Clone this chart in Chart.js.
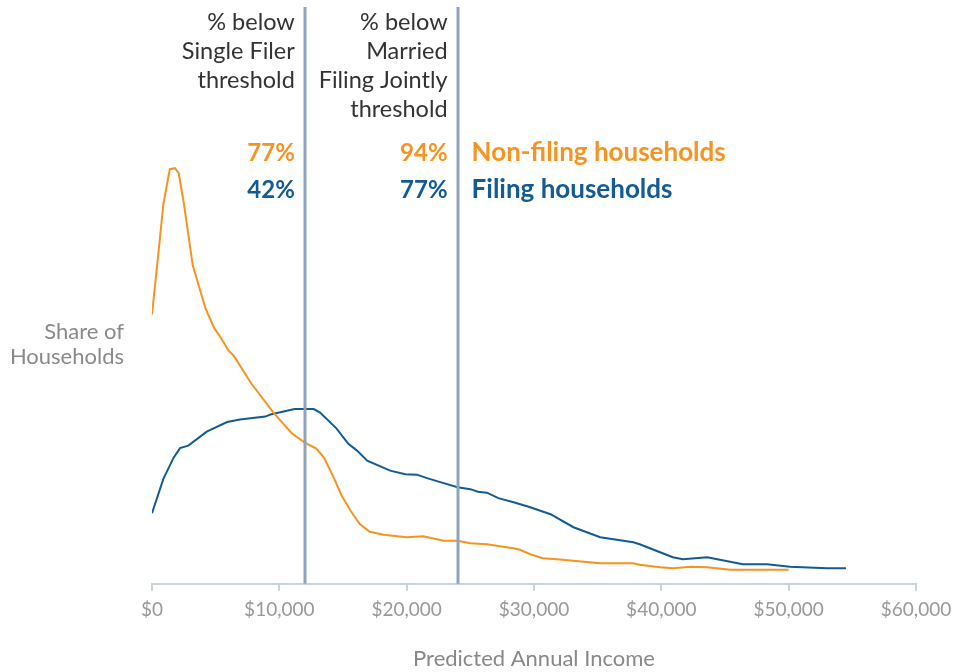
<!DOCTYPE html>
<html>
<head>
<meta charset="utf-8">
<script src="https://cdn.jsdelivr.net/npm/chart.js@4.4.1/dist/chart.umd.min.js"></script>
<style>
  body { margin: 0; background: #fff; }
</style>
</head>
<body>
<canvas id="myChart" width="956" height="672"></canvas>
<script>
// predicted annual income ($) and share of households (%)
const nonFilingIncome = [0, 500, 900, 1400, 1800, 2100, 2500, 3200, 4200, 4900, 5300, 6000, 6400, 7800, 9600,
  11000, 12000, 12900, 13500, 14200, 14900, 15600, 16300, 17100, 18200, 20000, 21300, 22900, 24000, 25000,
  26300, 27300, 28400, 28900, 29700, 30700, 31800, 35200, 37800, 38300, 39900, 40900, 42300, 43600, 45400, 50000];
const nonFilingShare = [5.38, 6.60, 7.60, 8.28, 8.30, 8.20, 7.60, 6.36, 5.50, 5.10, 4.96, 4.66, 4.56, 4.00, 3.40,
  3.00, 2.82, 2.70, 2.52, 2.16, 1.76, 1.46, 1.20, 1.04, 0.98, 0.93, 0.95, 0.86, 0.86, 0.81,
  0.79, 0.75, 0.71, 0.68, 0.59, 0.51, 0.49, 0.41, 0.41, 0.38, 0.33, 0.31, 0.34, 0.33, 0.28, 0.28];

const filingIncome = [0, 900, 1700, 2200, 2850, 4300, 5900, 6900, 8900, 9300, 11200, 12700, 13200, 14500, 15400,
  16100, 16900, 18700, 19900, 20800, 21600, 22900, 24000, 25000, 25600, 26300, 27200, 28400, 29700, 31300,
  33100, 35200, 37800, 38300, 39900, 40900, 41700, 43600, 46400, 48300, 50100, 53000, 54500];
const filingShare = [1.41, 2.10, 2.52, 2.71, 2.76, 3.04, 3.23, 3.28, 3.34, 3.38, 3.49, 3.49, 3.42, 3.10, 2.80,
  2.66, 2.46, 2.26, 2.19, 2.18, 2.11, 2.01, 1.93, 1.89, 1.84, 1.82, 1.71, 1.63, 1.53, 1.39,
  1.13, 0.93, 0.83, 0.79, 0.63, 0.53, 0.49, 0.53, 0.39, 0.39, 0.34, 0.31, 0.31];

const thresholds = [12000, 24000];
const thresholdLabels = [['% below', 'Single Filer', 'threshold'], ['% below', 'Married', 'Filing Jointly', 'threshold']];
const nonFilingBelow = ['77%', '94%'];
const filingBelow = ['42%', '77%'];
const seriesNames = ['Non-filing households', 'Filing households'];

const orange = '#f7931e';
const blue = '#125b94';

function toPoints(xs, ys) {
  return xs.map((x, i) => ({ x: x, y: ys[i] }));
}

// threshold lines and the text around them
const notes = {
  id: 'notes',
  afterDatasetsDraw(chart) {
    const ctx = chart.ctx;
    const area = chart.chartArea;
    const xs = chart.scales.x;
    ctx.save();
    ctx.strokeStyle = '#8fa3bb';
    ctx.lineWidth = 3;
    thresholds.forEach((t) => {
      const px = Math.round(xs.getPixelForValue(t));
      ctx.beginPath();
      ctx.moveTo(px, area.top);
      ctx.lineTo(px, area.bottom);
      ctx.stroke();
    });

    ctx.textAlign = 'right';
    ctx.textBaseline = 'middle';
    thresholds.forEach((t, i) => {
      const px = xs.getPixelForValue(t) - 10;
      ctx.font = '23.5px Lato';
      ctx.fillStyle = '#333';
      thresholdLabels[i].forEach((line, j) => {
        ctx.fillText(line, px, 22 + j * 29);
      });
      ctx.font = 'bold 24px Lato';
      ctx.fillStyle = orange;
      ctx.fillText(nonFilingBelow[i], px, 153);
      ctx.fillStyle = blue;
      ctx.fillText(filingBelow[i], px, 190);
    });

    const lx = xs.getPixelForValue(thresholds[1]) + 14;
    ctx.textAlign = 'left';
    ctx.font = 'bold 26px Lato';
    ctx.fillStyle = orange;
    ctx.fillText(seriesNames[0], lx, 153);
    ctx.fillStyle = blue;
    ctx.fillText(seriesNames[1], lx, 190);

    ctx.textAlign = 'right';
    ctx.font = '22px Lato';
    ctx.fillStyle = '#8a8a8a';
    ctx.fillText('Share of', 124, 332);
    ctx.fillText('Households', 124, 357);
    ctx.restore();
  }
};

new Chart(document.getElementById('myChart'), {
  type: 'line',
  data: {
    datasets: [{
      label: seriesNames[0],
      data: toPoints(nonFilingIncome, nonFilingShare),
      borderColor: orange,
      borderWidth: 2,
      pointRadius: 0,
      tension: 0
    }, {
      label: seriesNames[1],
      data: toPoints(filingIncome, filingShare),
      borderColor: blue,
      borderWidth: 2,
      pointRadius: 0,
      tension: 0
    }]
  },
  options: {
    responsive: false,
    animation: false,
    layout: { padding: { left: 152, right: 40, top: 7, bottom: 0 } },
    plugins: {
      legend: { display: false },
      tooltip: { enabled: false }
    },
    scales: {
      x: {
        type: 'linear',
        min: 0,
        max: 60000,
        // edge labels fit inside the layout padding, so don't let them shrink the plot
        afterFit: (scale) => { scale.paddingLeft = 0; scale.paddingRight = 0; },
        border: { display: true, color: '#c9d3df', width: 2 },
        grid: { drawOnChartArea: false, drawTicks: true, tickLength: 7, color: '#c9d3df', lineWidth: 2 },
        ticks: {
          stepSize: 10000,
          color: '#999',
          font: { family: 'Lato', size: 19 },
          padding: 8,
          maxRotation: 0,
          callback: (v) => '$' + v.toLocaleString('en-US')
        },
        title: {
          display: true,
          text: 'Predicted Annual Income',
          color: '#888',
          font: { family: 'Lato', size: 22 },
          padding: { top: 16, bottom: 0 }
        }
      },
      y: {
        display: false,
        min: 0,
        max: 11.52
      }
    }
  },
  plugins: [notes]
});
</script>
</body>
</html>
